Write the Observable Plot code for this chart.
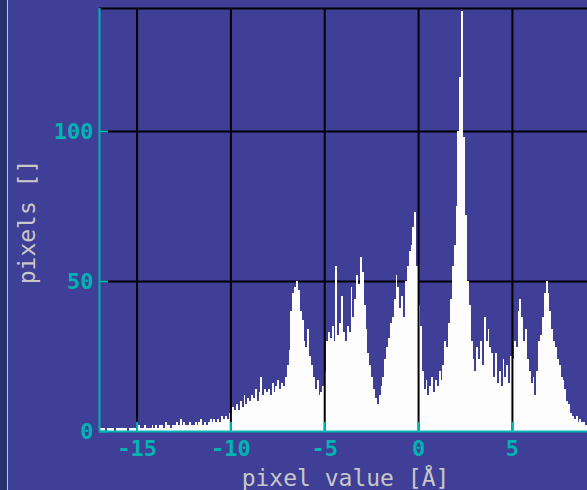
<!DOCTYPE html>
<html><head><meta charset="utf-8">
<script src="https://cdn.jsdelivr.net/npm/d3@7"></script>
<script src="https://cdn.jsdelivr.net/npm/@observablehq/plot@0.6"></script>
<style>
html,body{margin:0;padding:0;width:587px;height:490px;overflow:hidden;background:#3f3f97;}
#chart{position:absolute;left:0;top:0;}
#strip{position:absolute;left:0;top:0;width:7px;height:490px;background:#263069;border-right:1px solid #c4c8d4;}
</style></head><body>
<div id="chart"></div><div id="strip"></div>
<script>
// histogram bins: start of first bin and bin width (pixel value, Å)
const binStart = -17;
const binWidth = 0.1;
// pixel counts per bin (-17 … 9 Å)
const counts = [
  1,1,1,0,1,1,1,1,0,1,
  1,1,1,1,1,0,1,1,1,1,
  1,2,1,1,2,1,1,1,2,1,
  2,1,2,2,1,3,2,2,1,2,
  2,3,2,4,2,3,2,2,3,2,
  2,3,2,3,4,2,3,2,3,4,
  3,4,3,4,3,5,4,5,4,6,
  6,8,7,9,7,10,8,12,9,11,
  10,12,11,14,10,13,18,12,14,13,
  14,12,16,13,15,17,14,16,15,18,
  22,27,40,46,48,50,47,40,37,30,
  28,34,25,22,18,14,17,12,13,15,
  20,30,33,31,35,30,55,32,36,45,
  33,30,35,33,48,38,44,52,49,58,
  53,42,34,26,22,18,14,11,9,12,
  15,18,24,28,31,36,38,44,52,48,
  41,45,38,50,55,60,62,68,73,55,
  42,35,20,14,17,12,15,18,13,17,
  15,20,17,22,30,28,36,44,55,62,
  75,100,118,140,98,72,50,42,30,24,
  20,28,24,30,22,38,30,34,28,26,
  18,26,16,20,15,24,18,22,16,25,
  24,30,28,40,44,38,30,34,24,20,
  16,18,12,20,30,32,38,46,50,46,
  40,34,30,28,24,22,18,17,14,10,
  9,6,5,4,5,3,4,3,3,2
];
const xTicks = [-15, -10, -5, 0, 5];
const xTickLabels = ["-15", "-10", "-5", "0", "5"];
const yTicks = [0, 50, 100];
const yTickLabels = ["0", "50", "100"];
const xDomain = [-17, 9];
const yDomain = [0, 141];
const xLabel = "pixel value [Å]";
const yLabel = "pixels []";

const bins = counts.map((c, i) => ({x1: binStart + i * binWidth, x2: binStart + (i + 1) * binWidth, count: c}));

const cyan = "#00b4b4", gridColor = "#000000", labelGray = "#c8c8c8";

const chart = Plot.plot({
  width: 587, height: 490,
  marginLeft: 99, marginRight: 0, marginTop: 8, marginBottom: 59,
  x: {domain: xDomain},
  y: {domain: yDomain},
  style: {background: "transparent", fontFamily: "'DejaVu Sans Mono', monospace", fontSize: "22px"},
  marks: [
    Plot.gridY(yTicks.filter(d => d > 0), {stroke: gridColor, strokeOpacity: 1, strokeWidth: 2}),
    Plot.rectY(bins, {x1: "x1", x2: "x2", y: "count", fill: "#fdfdfd", inset: 0, shapeRendering: "crispEdges"}),
    Plot.gridX(xTicks, {stroke: gridColor, strokeOpacity: 1, strokeWidth: 2}),
    Plot.ruleY([yDomain[1]], {stroke: gridColor, strokeWidth: 2}),
    Plot.axisX(xTicks, {tickSize: -9, tickPadding: 18, color: cyan, fontSize: 22, fontWeight: "bold", strokeWidth: 2, label: null,
      tickFormat: d => xTickLabels[xTicks.indexOf(d)]}),
    Plot.axisY(yTicks, {tickSize: -9, tickPadding: 15, color: cyan, fontSize: 22, fontWeight: "bold", strokeWidth: 2, label: null,
      tickFormat: d => yTickLabels[yTicks.indexOf(d)]}),
    Plot.ruleX([xDomain[0]], {stroke: cyan, strokeWidth: 2}),
    Plot.ruleY([yDomain[0]], {stroke: cyan, strokeWidth: 2}),
    Plot.text([xLabel], {text: d => d, frameAnchor: "bottom", dx: 2, dy: 47, fill: labelGray, fontSize: 23, lineAnchor: "middle", textAnchor: "middle"}),
    Plot.text([yLabel], {text: d => d, frameAnchor: "left", dx: -72, dy: 2, rotate: -90, fill: labelGray, fontSize: 23, lineAnchor: "middle", textAnchor: "middle"})
  ]
});
document.getElementById("chart").appendChild(chart);
</script>
</body></html>
